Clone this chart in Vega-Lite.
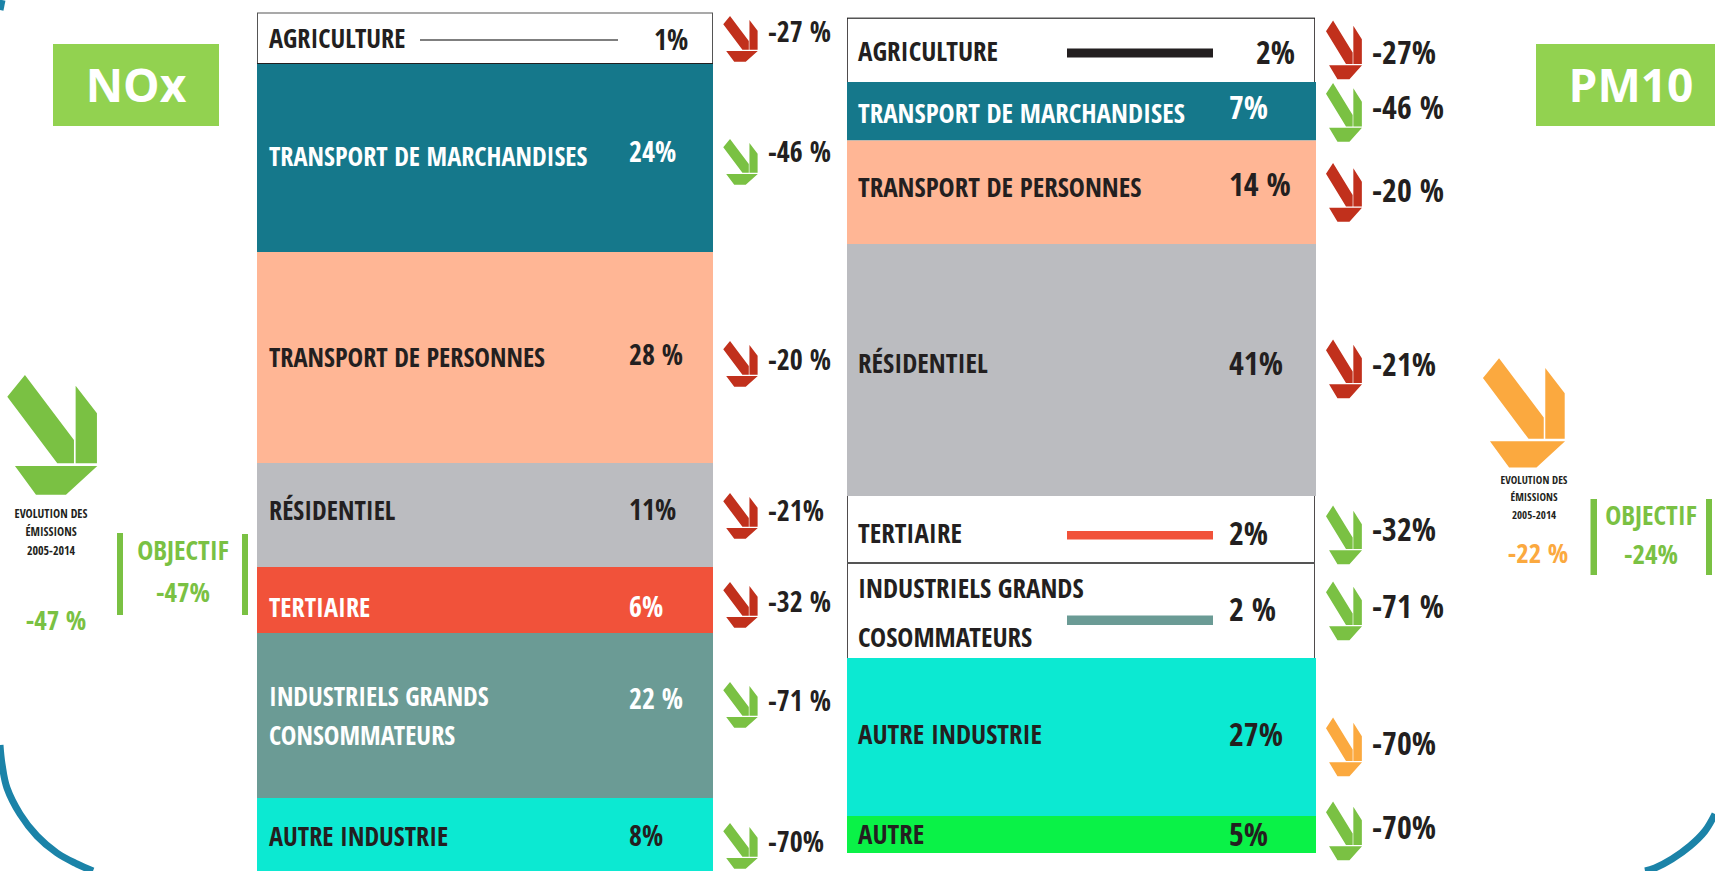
{
"$schema":"https://vega.github.io/schema/vega-lite/v6.json",
"width":1715,"height":871,"padding":0,
"autosize":"none",
"background":"#ffffff",
"config":{"view":{"stroke":null},"axis":{"disable":true},"legend":{"disable":true}},
"datasets":{
"bars":[
{"panel":"NOx","sector":"Part faible","name":"Agriculture","x0":257,"x1":713,"y0":13,"y1":63.5},
{"panel":"PM10","sector":"Part faible","name":"Agriculture","x0":847,"x1":1315,"y0":18,"y1":83},
{"panel":"PM10","sector":"Part faible","name":"Tertiaire","x0":847,"x1":1315,"y0":496,"y1":563},
{"panel":"PM10","sector":"Part faible","name":"Industriels","x0":847,"x1":1315,"y0":563,"y1":659},
{"panel":"NOx","sector":"Transport de marchandises","x0":257,"x1":713,"y0":64,"y1":252},
{"panel":"NOx","sector":"Transport de personnes","x0":257,"x1":713,"y0":252,"y1":463},
{"panel":"NOx","sector":"Résidentiel","x0":257,"x1":713,"y0":463,"y1":567},
{"panel":"NOx","sector":"Tertiaire","x0":257,"x1":713,"y0":567,"y1":633},
{"panel":"NOx","sector":"Industriels grands consommateurs","x0":257,"x1":713,"y0":633,"y1":798},
{"panel":"NOx","sector":"Autre industrie","x0":257,"x1":713,"y0":798,"y1":871},
{"panel":"PM10","sector":"Transport de marchandises","x0":847,"x1":1316,"y0":82,"y1":140.5},
{"panel":"PM10","sector":"Transport de personnes","x0":847,"x1":1316,"y0":140.5,"y1":244},
{"panel":"PM10","sector":"Résidentiel","x0":847,"x1":1316,"y0":244,"y1":496},
{"panel":"PM10","sector":"Autre industrie","x0":847,"x1":1316,"y0":658,"y1":816},
{"panel":"PM10","sector":"Autre","x0":847,"x1":1316,"y0":816,"y1":853},
{"panel":"NOx","sector":"Filet","x0":420,"x1":618,"y0":39.2,"y1":40.8},
{"panel":"PM10","sector":"Noir","x0":1067,"x1":1213,"y0":48.5,"y1":57.5},
{"panel":"PM10","sector":"Tertiaire","x0":1067,"x1":1213,"y0":531,"y1":539.5},
{"panel":"PM10","sector":"Industriels grands consommateurs","x0":1067,"x1":1213,"y0":615.5,"y1":625},
{"panel":"NOx","sector":"Vert titre","x0":53,"x1":219,"y0":44,"y1":126},
{"panel":"PM10","sector":"Vert titre","x0":1536,"x1":1715,"y0":44,"y1":126},
{"panel":"NOx","sector":"forte baisse","x0":117,"x1":123,"y0":533,"y1":615},
{"panel":"NOx","sector":"forte baisse","x0":242,"x1":248,"y0":534,"y1":615},
{"panel":"PM10","sector":"forte baisse","x0":1590.5,"x1":1597,"y0":499,"y1":575},
{"panel":"PM10","sector":"forte baisse","x0":1706,"x1":1712,"y0":499,"y1":575},
{"panel":"NOx","sector":"Filet","x0":257,"x1":713,"y0":12.5,"y1":13.5},
{"panel":"NOx","sector":"Filet","x0":257,"x1":258,"y0":13,"y1":63.5},
{"panel":"NOx","sector":"Filet","x0":712,"x1":713,"y0":13,"y1":63.5},
{"panel":"NOx","sector":"Noir","x0":257,"x1":713,"y0":63,"y1":64},
{"panel":"PM10","sector":"Filet","x0":847,"x1":1315,"y0":17.5,"y1":19},
{"panel":"PM10","sector":"Noir","x0":847,"x1":847.8,"y0":18,"y1":82},
{"panel":"PM10","sector":"Noir","x0":1314.2,"x1":1315,"y0":18,"y1":82},
{"panel":"PM10","sector":"Noir","x0":847,"x1":847.8,"y0":496,"y1":658},
{"panel":"PM10","sector":"Noir","x0":1314.2,"x1":1315,"y0":496,"y1":658},
{"panel":"PM10","sector":"Filet","x0":847,"x1":1315,"y0":562,"y1":564}
],
"icons":[
{"kind":"petit NOx","trend":"baisse faible","x":740.5,"y":39},
{"kind":"petit NOx","trend":"forte baisse","x":740.5,"y":162},
{"kind":"petit NOx","trend":"baisse faible","x":740.5,"y":364},
{"kind":"petit NOx","trend":"baisse faible","x":740.5,"y":516},
{"kind":"petit NOx","trend":"baisse faible","x":740.5,"y":605},
{"kind":"petit NOx","trend":"forte baisse","x":740.5,"y":705},
{"kind":"petit NOx","trend":"forte baisse","x":740.5,"y":846},
{"kind":"petit PM10","trend":"baisse faible","x":1344,"y":50},
{"kind":"petit PM10","trend":"forte baisse","x":1344,"y":112.5},
{"kind":"petit PM10","trend":"baisse faible","x":1344,"y":192.5},
{"kind":"petit PM10","trend":"baisse faible","x":1344,"y":369},
{"kind":"petit PM10","trend":"forte baisse","x":1344,"y":535},
{"kind":"petit PM10","trend":"forte baisse","x":1344,"y":611},
{"kind":"petit PM10","trend":"baisse moyenne","x":1344,"y":747},
{"kind":"petit PM10","trend":"forte baisse","x":1344,"y":831},
{"kind":"grand NOx","trend":"forte baisse","x":52.3,"y":435},
{"kind":"grand PM10","trend":"baisse moyenne","x":1524,"y":413}
],
"texts":[
{"role":"secteur NOx","tone":"sombre","x":269,"y":38,"t":"AGRICULTURE"},
{"role":"secteur NOx","tone":"clair","x":269,"y":156,"t":"TRANSPORT DE MARCHANDISES"},
{"role":"secteur NOx","tone":"sombre","x":269,"y":357,"t":"TRANSPORT DE PERSONNES"},
{"role":"secteur NOx","tone":"sombre","x":269,"y":510,"t":"RÉSIDENTIEL"},
{"role":"secteur NOx","tone":"clair","x":269,"y":607,"t":"TERTIAIRE"},
{"role":"secteur NOx","tone":"clair","x":269,"y":696,"t":"INDUSTRIELS GRANDS"},
{"role":"secteur NOx","tone":"clair","x":269,"y":735,"t":"CONSOMMATEURS"},
{"role":"secteur NOx","tone":"sombre","x":269,"y":836,"t":"AUTRE INDUSTRIE"},
{"role":"valeur NOx","tone":"sombre","x":654,"y":40,"t":"1%"},
{"role":"valeur NOx","tone":"clair","x":629,"y":152,"t":"24%"},
{"role":"valeur NOx","tone":"sombre","x":629,"y":355,"t":"28 %"},
{"role":"valeur NOx","tone":"sombre","x":629,"y":510,"t":"11%"},
{"role":"valeur NOx","tone":"clair","x":629,"y":607,"t":"6%"},
{"role":"valeur NOx","tone":"clair","x":629,"y":699,"t":"22 %"},
{"role":"valeur NOx","tone":"sombre","x":629,"y":836,"t":"8%"},
{"role":"valeur NOx","tone":"sombre","x":768,"y":32,"t":"-27 %"},
{"role":"valeur NOx","tone":"sombre","x":768,"y":152,"t":"-46 %"},
{"role":"valeur NOx","tone":"sombre","x":768,"y":360,"t":"-20 %"},
{"role":"valeur NOx","tone":"sombre","x":768,"y":511,"t":"-21%"},
{"role":"valeur NOx","tone":"sombre","x":768,"y":602,"t":"-32 %"},
{"role":"valeur NOx","tone":"sombre","x":768,"y":701,"t":"-71 %"},
{"role":"valeur NOx","tone":"sombre","x":768,"y":842,"t":"-70%"},
{"role":"secteur PM10","tone":"sombre","x":858,"y":51,"t":"AGRICULTURE"},
{"role":"secteur PM10","tone":"clair","x":858,"y":113,"t":"TRANSPORT DE MARCHANDISES"},
{"role":"secteur PM10","tone":"sombre","x":858,"y":187,"t":"TRANSPORT DE PERSONNES"},
{"role":"secteur PM10","tone":"sombre","x":858,"y":363,"t":"RÉSIDENTIEL"},
{"role":"secteur PM10","tone":"sombre","x":858,"y":533,"t":"TERTIAIRE"},
{"role":"secteur PM10","tone":"sombre","x":858,"y":588,"t":"INDUSTRIELS GRANDS"},
{"role":"secteur PM10","tone":"sombre","x":858,"y":637,"t":"COSOMMATEURS"},
{"role":"secteur PM10","tone":"sombre","x":858,"y":734,"t":"AUTRE INDUSTRIE"},
{"role":"secteur PM10","tone":"sombre","x":858,"y":834,"t":"AUTRE"},
{"role":"valeur PM10","tone":"sombre","x":1256,"y":52,"t":"2%"},
{"role":"valeur PM10","tone":"clair","x":1229,"y":107,"t":"7%"},
{"role":"valeur PM10","tone":"sombre","x":1229,"y":184,"t":"14 %"},
{"role":"valeur PM10","tone":"sombre","x":1229,"y":363,"t":"41%"},
{"role":"valeur PM10","tone":"sombre","x":1229,"y":533,"t":"2%"},
{"role":"valeur PM10","tone":"sombre","x":1229,"y":609,"t":"2 %"},
{"role":"valeur PM10","tone":"sombre","x":1229,"y":734,"t":"27%"},
{"role":"valeur PM10","tone":"sombre","x":1229,"y":834,"t":"5%"},
{"role":"valeur PM10","tone":"sombre","x":1372,"y":52,"t":"-27%"},
{"role":"valeur PM10","tone":"sombre","x":1372,"y":107,"t":"-46 %"},
{"role":"valeur PM10","tone":"sombre","x":1372,"y":190,"t":"-20 %"},
{"role":"valeur PM10","tone":"sombre","x":1372,"y":364,"t":"-21%"},
{"role":"valeur PM10","tone":"sombre","x":1372,"y":529,"t":"-32%"},
{"role":"valeur PM10","tone":"sombre","x":1372,"y":606,"t":"-71 %"},
{"role":"valeur PM10","tone":"sombre","x":1372,"y":743,"t":"-70%"},
{"role":"valeur PM10","tone":"sombre","x":1372,"y":827,"t":"-70%"},
{"role":"note NOx","tone":"sombre","x":51,"y":513,"t":"EVOLUTION DES"},
{"role":"note NOx","tone":"sombre","x":51,"y":531,"t":"ÉMISSIONS"},
{"role":"note NOx","tone":"sombre","x":51,"y":550,"t":"2005-2014"},
{"role":"objectif","tone":"forte baisse","x":56,"y":620,"t":"-47 %"},
{"role":"objectif","tone":"forte baisse","x":183,"y":550,"t":"OBJECTIF"},
{"role":"objectif","tone":"forte baisse","x":183,"y":592,"t":"-47%"},
{"role":"note PM10","tone":"sombre","x":1534,"y":480,"t":"EVOLUTION DES"},
{"role":"note PM10","tone":"sombre","x":1534,"y":497,"t":"ÉMISSIONS"},
{"role":"note PM10","tone":"sombre","x":1534,"y":515,"t":"2005-2014"},
{"role":"objectif","tone":"baisse moyenne","x":1538,"y":553,"t":"-22 %"},
{"role":"objectif","tone":"forte baisse","x":1651,"y":515,"t":"OBJECTIF"},
{"role":"objectif","tone":"forte baisse","x":1651,"y":554,"t":"-24%"}
],
"titres":[
{"t":"NOx","x":136,"y":86},
{"t":"PM10","x":1631,"y":86}
],
"cadre":[
{"part":"gauche","x":0,"y":745},{"part":"gauche","x":2,"y":764},{"part":"gauche","x":7,"y":788},{"part":"gauche","x":20,"y":814},{"part":"gauche","x":37,"y":836},{"part":"gauche","x":57,"y":853},{"part":"gauche","x":77,"y":864},{"part":"gauche","x":93,"y":871},
{"part":"droite","x":1715,"y":814},{"part":"droite","x":1705,"y":831},{"part":"droite","x":1690,"y":846},{"part":"droite","x":1672,"y":859},{"part":"droite","x":1655,"y":868},{"part":"droite","x":1645,"y":871},
{"part":"haut","x":0,"y":10},{"part":"haut","x":2,"y":0}
]
},
"layer":[
{"data":{"name":"bars"},
 "mark":{"type":"rect"},
 "encoding":{
  "x":{"field":"x0","type":"quantitative","scale":{"domain":[0,1715],"nice":false,"zero":false}},
  "x2":{"field":"x1"},
  "y":{"field":"y0","type":"quantitative","scale":{"domain":[871,0],"nice":false,"zero":false}},
  "y2":{"field":"y1"},
  "color":{"field":"sector","type":"nominal","sort":null,"scale":{
   "domain":["Part faible","Transport de marchandises","Transport de personnes","Résidentiel","Tertiaire","Industriels grands consommateurs","Autre industrie","Autre","Filet","Noir","Vert titre","forte baisse","baisse faible","baisse moyenne","sombre","clair"],
   "range":["#ffffff","#15788B","#FFB695","#BBBCC0","#F1523A","#6B9B95","#0CE9D2","#0AF247","#555555","#231F20","#92D250","#7AC143","#C1301C","#FBA93F","#231F20","#ffffff"]}}
 }},
{"data":{"name":"cadre"},
 "mark":{"type":"line","interpolate":"cardinal","stroke":"#1B83A8","strokeWidth":7,"clip":true},
 "encoding":{
  "x":{"field":"x","type":"quantitative"},
  "y":{"field":"y","type":"quantitative"},
  "order":{"field":"y"},
  "detail":{"field":"part"}
 }},
{"data":{"name":"icons"},
 "encoding":{
  "x":{"field":"x","type":"quantitative"},
  "y":{"field":"y","type":"quantitative"},
  "color":{"field":"trend","type":"nominal"}
 },
 "layer":[
 {"transform":[{"filter":"datum.kind === 'petit NOx'"}],
  "mark":{"type":"point","filled":true,"opacity":1,"strokeWidth":0,"size":2116,"shape":"M-.75 -.639L-.456 -1L.361 .083L.361 .472L.083 .472ZM.389 -.822L.744 -.361L.744 .472L.389 .472ZM-.622 .517L.75 .517L.228 .994L-.272 .994Z"}},
 {"transform":[{"filter":"datum.kind === 'grand NOx'"}],
  "mark":{"type":"point","filled":true,"opacity":1,"strokeWidth":0,"size":14400,"shape":"M-.75 -.639L-.456 -1L.361 .083L.361 .472L.083 .472ZM.389 -.822L.744 -.361L.744 .472L.389 .472ZM-.622 .517L.75 .517L.228 .994L-.272 .994Z"}},
 {"transform":[{"filter":"datum.kind === 'grand PM10'"}],
  "mark":{"type":"point","filled":true,"opacity":1,"strokeWidth":0,"size":11970,"shape":"M-.75 -.639L-.456 -1L.361 .083L.361 .472L.083 .472ZM.389 -.822L.744 -.361L.744 .472L.389 .472ZM-.622 .517L.75 .517L.228 .994L-.272 .994Z"}},
 {"transform":[{"filter":"datum.kind === 'petit PM10'"}],
  "mark":{"type":"point","filled":true,"opacity":1,"strokeWidth":0,"size":2304,"shape":"M-.75 -.784L-.456 -1.227L.361 .102L.361 .579L.083 .579ZM.389 -1.009L.744 -.443L.744 .579L.389 .579ZM-.622 .634L.75 .634L.228 1.22L-.272 1.22Z"}}
 ]},
{"data":{"name":"texts"},
 "encoding":{
  "x":{"field":"x","type":"quantitative"},
  "y":{"field":"y","type":"quantitative"},
  "text":{"field":"t"},
  "color":{"field":"tone","type":"nominal"}
 },
 "layer":[
 {"transform":[{"filter":"datum.role === 'secteur NOx'"}],
  "mark":{"type":"text","align":"left","baseline":"middle","dy":2,"font":"Open Sans Condensed","fontWeight":"bold","fontSize":26.3}},
 {"transform":[{"filter":"datum.role === 'secteur PM10'"}],
  "mark":{"type":"text","align":"left","baseline":"middle","dy":2,"font":"Open Sans Condensed","fontWeight":"bold","fontSize":27}},
 {"transform":[{"filter":"datum.role === 'valeur NOx'"}],
  "mark":{"type":"text","align":"left","baseline":"middle","dy":2,"font":"Open Sans Condensed","fontWeight":"bold","fontSize":28}},
 {"transform":[{"filter":"datum.role === 'valeur PM10'"}],
  "mark":{"type":"text","align":"left","baseline":"middle","dy":2,"font":"Open Sans Condensed","fontWeight":"bold","fontSize":32}},
 {"transform":[{"filter":"datum.role === 'note NOx'"}],
  "mark":{"type":"text","align":"center","baseline":"middle","dy":1,"font":"Open Sans Condensed","fontWeight":"bold","fontSize":12}},
 {"transform":[{"filter":"datum.role === 'note PM10'"}],
  "mark":{"type":"text","align":"center","baseline":"middle","dy":1,"font":"Open Sans Condensed","fontWeight":"bold","fontSize":11}},
 {"transform":[{"filter":"datum.role === 'objectif'"}],
  "mark":{"type":"text","align":"center","baseline":"middle","dy":2,"font":"Open Sans Condensed","fontWeight":"bold","fontSize":27}}
 ]},
{"data":{"name":"titres"},
 "mark":{"type":"text","align":"center","baseline":"middle","dy":2,"font":"Open Sans","fontWeight":"bold","fontSize":46,"fill":"#ffffff"},
 "encoding":{
  "x":{"field":"x","type":"quantitative"},
  "y":{"field":"y","type":"quantitative"},
  "text":{"field":"t"}
 }}
]
}
